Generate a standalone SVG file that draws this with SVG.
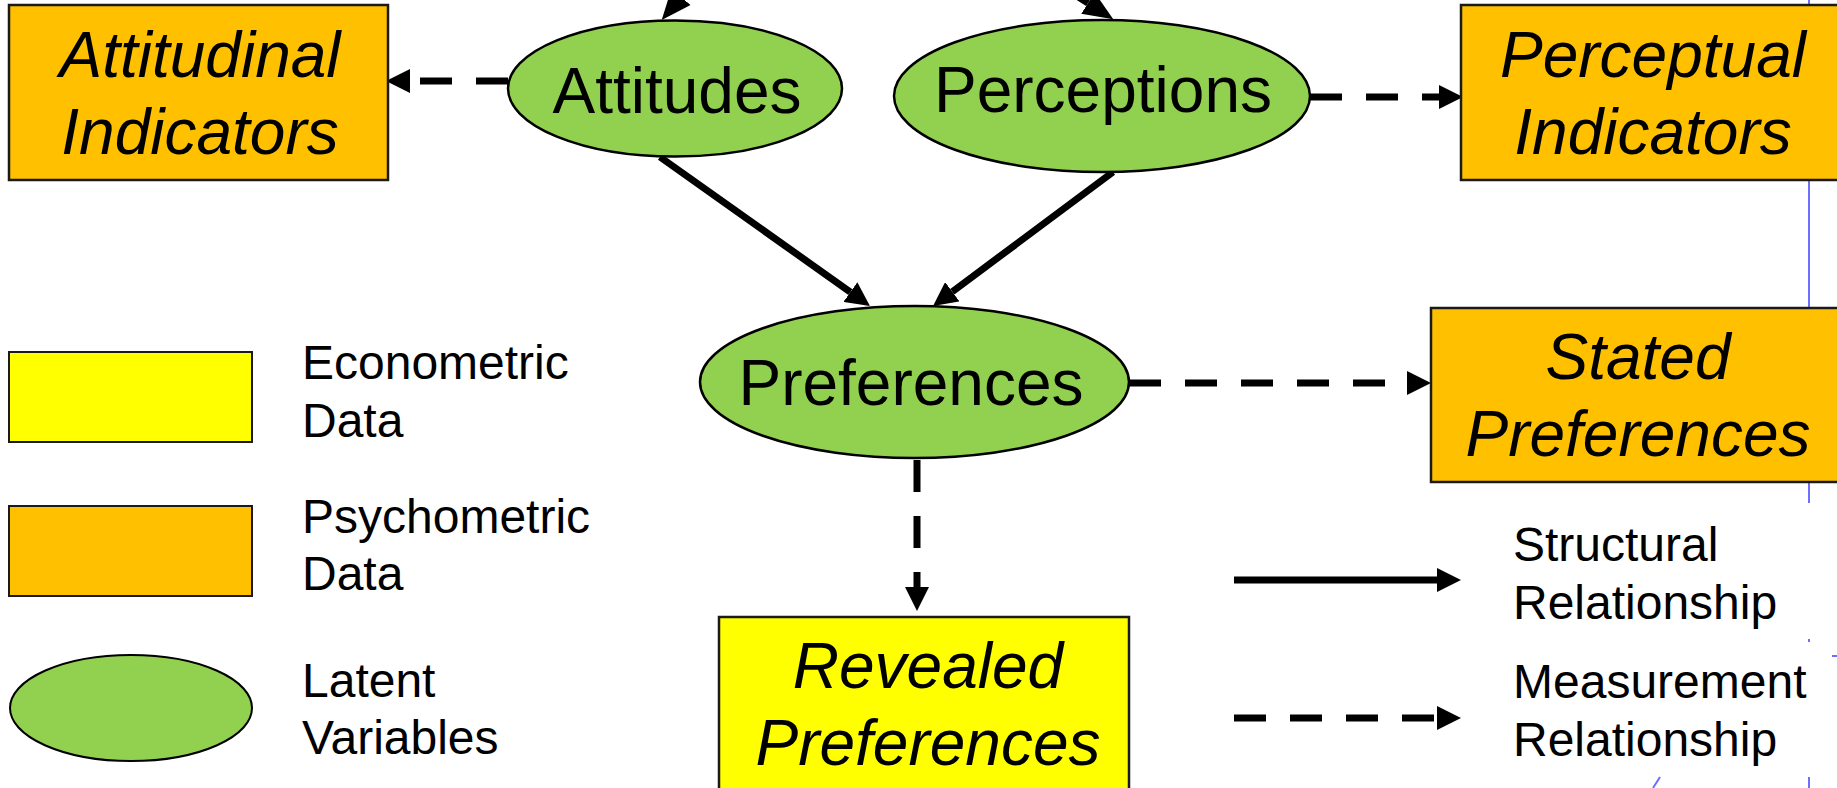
<svg xmlns="http://www.w3.org/2000/svg" width="1837" height="788" viewBox="0 0 1837 788">
<style>
.box{stroke:#1a1a1a;stroke-width:2.5}
.psy{fill:#FFC000}
.eco{fill:#FFFF00}
.lat{fill:#92D050;stroke:#000;stroke-width:2.5}
.t{font-family:"Liberation Sans",Arial,sans-serif;font-size:64px;fill:#000;text-anchor:middle}
.ti{font-style:italic}
.lg{font-family:"Liberation Sans",Arial,sans-serif;font-size:48px;fill:#000}
.s{stroke:#000;stroke-width:7;fill:none}
.d{stroke:#000;stroke-width:7;fill:none;stroke-dasharray:32 24}
.blue{stroke:#6f6fff;stroke-width:2;fill:none}
</style>
<defs>
<marker id="ah" markerUnits="userSpaceOnUse" markerWidth="24" markerHeight="24" refX="0" refY="12" orient="auto">
<path d="M0,0 L24,12 L0,24 Z" fill="#000"/>
</marker>
<marker id="ahb" markerUnits="userSpaceOnUse" markerWidth="30" markerHeight="26" refX="0" refY="13" orient="auto">
<path d="M0,0.5 L30,13 L0,25.5 Z" fill="#000"/>
</marker>
</defs>
<rect width="1837" height="788" fill="#fff"/>
<g id="guides">
<line class="blue" x1="1809" y1="0" x2="1809" y2="503"/>
<line class="blue" x1="1809" y1="639" x2="1809" y2="642"/>
<line class="blue" x1="1832" y1="656" x2="1837" y2="656"/>
<line class="blue" x1="1653" y1="788" x2="1660" y2="777"/>
<line class="blue" x1="1809" y1="777" x2="1809" y2="788"/>
</g>
<g id="connectors">
<line class="s" x1="726" y1="-56.5" x2="681" y2="-3" marker-end="url(#ahb)"/>
<line class="s" x1="1029" y1="-34.6" x2="1088" y2="3.1" marker-end="url(#ahb)"/>
<line class="d" x1="508" y1="81" x2="410" y2="81" marker-end="url(#ah)"/>
<line class="d" x1="1310" y1="97" x2="1439" y2="97" marker-end="url(#ah)"/>
<line class="s" x1="660" y1="157" x2="850.4" y2="292.1" marker-end="url(#ah)"/>
<line class="s" x1="1113" y1="172" x2="952.3" y2="291.7" marker-end="url(#ah)"/>
<line class="d" x1="1129" y1="383" x2="1407" y2="383" marker-end="url(#ah)"/>
<line class="d" x1="917" y1="460" x2="917" y2="587" marker-end="url(#ah)"/>
</g>
<g id="attitudinal">
<rect class="box psy" x="9" y="5" width="379" height="175"/>
<text class="t ti" x="200" y="77">Attitudinal</text>
<text class="t ti" x="200" y="154">Indicators</text>
</g>
<g id="perceptual">
<rect class="box psy" x="1461" y="5" width="388" height="175"/>
<text class="t ti" x="1653" y="77">Perceptual</text>
<text class="t ti" x="1653" y="154">Indicators</text>
</g>
<g id="attitudes">
<ellipse class="lat" cx="675" cy="88.5" rx="167" ry="68"/>
<text class="t" x="677" y="113">Attitudes</text>
</g>
<g id="perceptions">
<ellipse class="lat" cx="1102" cy="96" rx="208" ry="76"/>
<text class="t" x="1103" y="112">Perceptions</text>
</g>
<g id="preferences">
<ellipse class="lat" cx="914.5" cy="382" rx="214.5" ry="76"/>
<text class="t" x="911" y="405">Preferences</text>
</g>
<g id="stated">
<rect class="box psy" x="1431" y="308" width="418" height="174"/>
<text class="t ti" x="1638" y="379">Stated</text>
<text class="t ti" x="1638" y="456">Preferences</text>
</g>
<g id="revealed">
<rect class="box eco" x="719" y="617" width="410" height="190"/>
<text class="t ti" x="928" y="688">Revealed</text>
<text class="t ti" x="928" y="765">Preferences</text>
</g>
<g id="legend-econometric">
<rect class="box eco" x="9" y="352" width="243" height="90" style="stroke-width:2"/>
<text class="lg" x="302" y="379">Econometric</text>
<text class="lg" x="302" y="437">Data</text>
</g>
<g id="legend-psychometric">
<rect class="box psy" x="9" y="506" width="243" height="90" style="stroke-width:2"/>
<text class="lg" x="302" y="533">Psychometric</text>
<text class="lg" x="302" y="590">Data</text>
</g>
<g id="legend-latent">
<ellipse class="lat" cx="131" cy="708" rx="121" ry="53" style="stroke-width:2"/>
<text class="lg" x="302" y="697">Latent</text>
<text class="lg" x="302" y="754">Variables</text>
</g>
<g id="legend-structural">
<line class="s" x1="1234" y1="580" x2="1437" y2="580" marker-end="url(#ah)"/>
<text class="lg" x="1513" y="561">Structural</text>
<text class="lg" x="1513" y="619">Relationship</text>
</g>
<g id="legend-measurement">
<line class="d" x1="1234" y1="718" x2="1437" y2="718" marker-end="url(#ah)"/>
<text class="lg" x="1513" y="698">Measurement</text>
<text class="lg" x="1513" y="756">Relationship</text>
</g>
</svg>
